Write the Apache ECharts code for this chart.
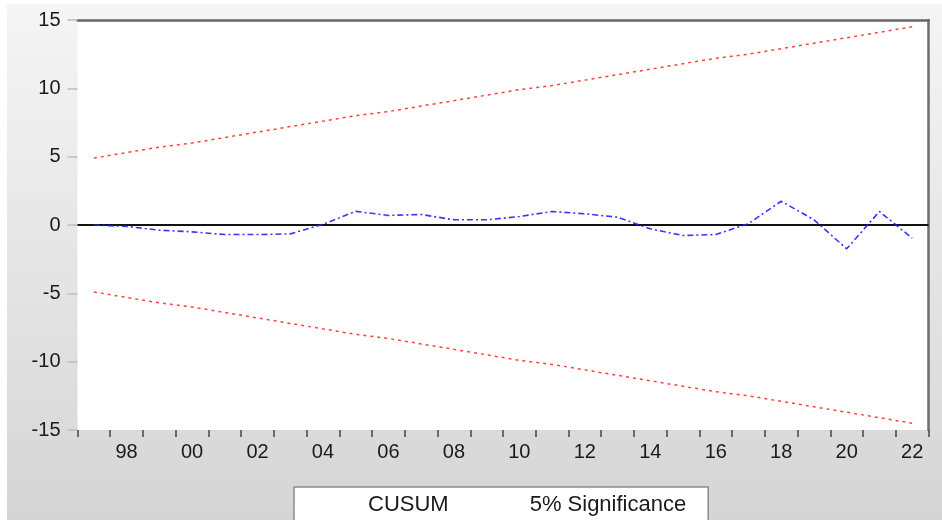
<!DOCTYPE html>
<html>
<head>
<meta charset="utf-8">
<script src="https://cdn.jsdelivr.net/npm/echarts@6/dist/echarts.min.js"></script>
<style>
  html, body { margin: 0; padding: 0; background: #ffffff; }
  #chart { width: 942px; height: 520px; }
</style>
</head>
<body>
<div id="chart"></div>
<script>
// Years 1997–2022, shown as two-digit labels
const years = ['97','98','99','00','01','02','03','04','05','06','07','08','09',
               '10','11','12','13','14','15','16','17','18','19','20','21','22'];

// Cumulative sum of recursive residuals
const cusum = [0.0, -0.1, -0.38, -0.5, -0.7, -0.7, -0.65, 0.05, 1.0, 0.7, 0.77, 0.38, 0.38,
               0.62, 0.99, 0.82, 0.57, -0.28, -0.77, -0.7, 0.1, 1.74, 0.38, -1.74, 0.99, -0.96];

// 5% significance bounds
const upperBound = [4.9, 5.3, 5.7, 6.0, 6.4, 6.8, 7.2, 7.6, 8.0, 8.3, 8.7, 9.1, 9.5,
                    9.9, 10.2, 10.6, 11.0, 11.4, 11.8, 12.2, 12.5, 12.9, 13.3, 13.7, 14.1, 14.5];
const lowerBound = [-4.9, -5.3, -5.7, -6.0, -6.4, -6.8, -7.2, -7.6, -8.0, -8.3, -8.7, -9.1, -9.5,
                    -9.9, -10.2, -10.6, -11.0, -11.4, -11.8, -12.2, -12.5, -12.9, -13.3, -13.7, -14.1, -14.5];

const yTicks = { min: -15, max: 15, step: 5 };

const FONT = '"Liberation Sans", Arial, sans-serif';

const chart = echarts.init(document.getElementById('chart'), null, { renderer: 'canvas' });

chart.setOption({
  animation: false,
  backgroundColor: '#ffffff',
  graphic: [{
    type: 'rect',
    z: -10,
    silent: true,
    shape: { x: 7, y: 4, width: 935, height: 516 },
    style: {
      fill: new echarts.graphic.LinearGradient(0, 0, 0, 1, [
        { offset: 0, color: '#f5f5f5' },
        { offset: 1, color: '#d5d5d5' }
      ])
    }
  }],
  grid: {
    left: 77.5, right: 13.5, top: 20, bottom: 90,
    show: true, backgroundColor: '#ffffff', borderWidth: 0
  },
  legend: {
    data: ['CUSUM', '5% Significance'],
    left: 294, top: 487,
    icon: 'none',
    itemWidth: 0, itemHeight: 0,
    itemGap: 76,
    padding: [7, 22, 40, 69],
    backgroundColor: '#ffffff',
    borderColor: '#8a8a8a',
    borderWidth: 1.5,
    borderRadius: 0,
    selectedMode: false,
    textStyle: { fontFamily: FONT, fontSize: 22, color: '#1a1a1a' }
  },
  xAxis: [{
    type: 'category',
    data: years,
    boundaryGap: true,
    position: 'bottom',
    axisLine: { show: false, onZero: false },
    axisTick: { show: true, interval: 0, length: 7, lineStyle: { color: '#444', width: 1.5 } },
    axisLabel: {
      interval: (i) => i % 2 === 1,
      margin: 12,
      fontFamily: FONT, fontSize: 20, color: '#1a1a1a'
    },
    splitLine: { show: false }
  }, {
    // frame line along the top of the plot
    type: 'category',
    data: years,
    position: 'top',
    axisLine: { show: true, onZero: false, lineStyle: { color: '#666', width: 2.5 } },
    axisTick: { show: false },
    axisLabel: { show: false }
  }],
  yAxis: [{
    type: 'value',
    min: yTicks.min, max: yTicks.max, interval: yTicks.step,
    axisLine: { show: false },
    axisTick: { show: true, length: 10, lineStyle: { color: '#bdbdbd', width: 1.5 } },
    axisLabel: { margin: 17, fontFamily: FONT, fontSize: 20, color: '#1a1a1a' },
    splitLine: { show: false }
  }, {
    // frame line along the right side of the plot
    type: 'value',
    min: yTicks.min, max: yTicks.max, interval: yTicks.step,
    position: 'right',
    axisLine: { show: true, onZero: false, lineStyle: { color: '#6e6e6e', width: 2.5 } },
    axisTick: { show: false },
    axisLabel: { show: false },
    splitLine: { show: false }
  }],
  series: [{
    name: '5% Significance',
    type: 'line',
    data: upperBound,
    symbol: 'none',
    z: 2,
    lineStyle: { color: '#ff2020', width: 1.5, type: [3, 4], opacity: 0.85 },
    color: '#ff2020'
  }, {
    name: '5% Significance',
    type: 'line',
    data: lowerBound,
    symbol: 'none',
    z: 2,
    lineStyle: { color: '#ff2020', width: 1.5, type: [3, 4], opacity: 0.85 },
    color: '#ff2020'
  }, {
    name: 'CUSUM',
    type: 'line',
    data: cusum,
    symbol: 'none',
    z: 4,
    lineStyle: { color: '#2020ff', width: 1.6, type: [6, 3, 2, 3], opacity: 0.9 },
    color: '#2020ff',
    markLine: {
      silent: true,
      symbol: 'none',
      label: { show: false },
      z: 3,
      lineStyle: { color: '#111', width: 2, type: 'solid' },
      data: [{ yAxis: 0 }]
    }
  }]
});
</script>
</body>
</html>
